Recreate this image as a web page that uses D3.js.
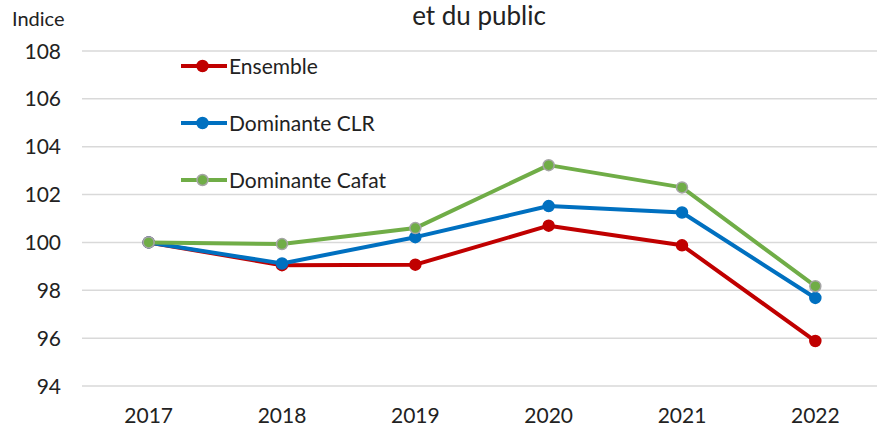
<!DOCTYPE html>
<html>
<head>
<meta charset="utf-8">
<script src="https://cdn.jsdelivr.net/npm/d3@7"></script>
<style>
  body { margin: 0; background: #fff; }
  svg { font-family: Lato, "Open Sans", sans-serif; }
</style>
</head>
<body>
<svg id="chart" width="877" height="428"></svg>
<script>
// data
var years = ["2017", "2018", "2019", "2020", "2021", "2022"];
var ensemble = [100, 99.05, 99.07, 100.7, 99.88, 95.88];
var domCLR = [100, 99.12, 100.22, 101.52, 101.25, 97.68];
var domCafat = [100, 99.93, 100.6, 103.23, 102.3, 98.17];
var yTicks = [94, 96, 98, 100, 102, 104, 106, 108];

var series = [
  { name: "Ensemble", values: ensemble, color: "#c00000", marker: "#c00000", markerStroke: "#c00000" },
  { name: "Dominante CLR", values: domCLR, color: "#0070c0", marker: "#0070c0", markerStroke: "#0070c0" },
  { name: "Dominante Cafat", values: domCafat, color: "#70ad47", marker: "#70ad47", markerStroke: "#a5a5a5" }
];

var svg = d3.select("#chart");

var x = d3.scaleBand().domain(years).range([82, 882]);
var y = d3.scaleLinear().domain([94, 108]).range([386, 51]);

// Gridlines
svg.append("g").selectAll("line")
  .data(yTicks).enter().append("line")
  .attr("x1", 82).attr("x2", 877)
  .attr("y1", function(d) { return y(d); })
  .attr("y2", function(d) { return y(d); })
  .attr("stroke", "#d9d9d9").attr("stroke-width", 1.5);

// Y axis labels
svg.append("g").selectAll("text")
  .data(yTicks).enter().append("text")
  .attr("x", 61)
  .attr("y", function(d) { return y(d); })
  .attr("dy", "0.36em")
  .attr("text-anchor", "end")
  .attr("font-size", 21)
  .attr("fill", "#222")
  .text(function(d) { return d; });

// X axis labels
svg.append("g").selectAll("text")
  .data(years).enter().append("text")
  .attr("x", function(d) { return x(d) + x.bandwidth() / 2; })
  .attr("y", 423)
  .attr("text-anchor", "middle")
  .attr("font-size", 21)
  .attr("fill", "#222")
  .text(function(d) { return d; });

// Title + axis caption
svg.append("text").attr("x", 479).attr("y", 25)
  .attr("text-anchor", "middle").attr("font-size", 26).attr("fill", "#222")
  .text("et du public");
svg.append("text").attr("x", 12).attr("y", 26)
  .attr("font-size", 20).attr("fill", "#222")
  .text("Indice");

var line = d3.line()
  .x(function(d, i) { return x(years[i]) + x.bandwidth() / 2; })
  .y(function(d) { return y(d); });

// Lines and markers
series.forEach(function(s) {
  svg.append("path")
    .datum(s.values)
    .attr("d", line)
    .attr("fill", "none")
    .attr("stroke", s.color)
    .attr("stroke-width", 4)
    .attr("stroke-linejoin", "round");

  svg.append("g").selectAll("circle")
    .data(s.values).enter().append("circle")
    .attr("cx", function(d, i) { return x(years[i]) + x.bandwidth() / 2; })
    .attr("cy", function(d) { return y(d); })
    .attr("r", 5.5)
    .attr("fill", s.marker)
    .attr("stroke", s.markerStroke)
    .attr("stroke-width", 1.5);
});

// Legend
var legend = svg.append("g").selectAll("g")
  .data(series).enter().append("g")
  .attr("transform", function(d, i) { return "translate(181," + [66, 123, 180][i] + ")"; });

legend.append("line")
  .attr("x1", 0).attr("x2", 46)
  .attr("stroke", function(d) { return d.color; })
  .attr("stroke-width", 4);
legend.append("circle")
  .attr("cx", 21.5).attr("r", 5.5)
  .attr("fill", function(d) { return d.marker; })
  .attr("stroke", function(d) { return d.markerStroke; })
  .attr("stroke-width", 1.5);
legend.append("text")
  .attr("x", 48).attr("dy", "0.36em")
  .attr("font-size", 21).attr("fill", "#222")
  .text(function(d) { return d.name; });
</script>
</body>
</html>
